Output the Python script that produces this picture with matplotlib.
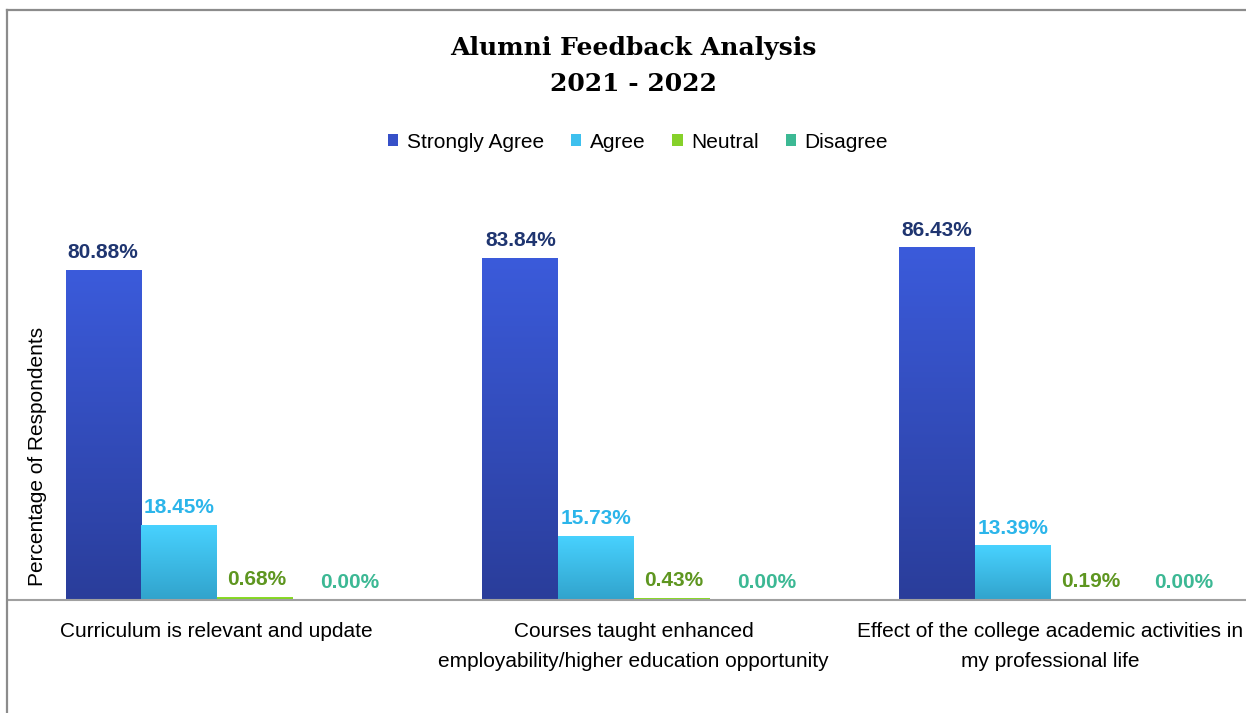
import matplotlib
matplotlib.use("Agg")
import matplotlib.pyplot as plt
import numpy as np
from matplotlib.colors import LinearSegmentedColormap
from matplotlib.patches import Patch
from matplotlib.lines import Line2D

categories = [
    "Curriculum is relevant and update",
    "Courses taught enhanced\nemployability/higher education opportunity",
    "Effect of the college academic activities in\nmy professional life",
]
series_names = ["Strongly Agree", "Agree", "Neutral", "Disagree"]
strongly_agree = [80.88, 83.84, 86.43]
agree = [18.45, 15.73, 13.39]
neutral = [0.68, 0.43, 0.19]
disagree = [0.00, 0.00, 0.00]

# (top colour, bottom colour, legend colour, label colour, label x-shift in pt)
STYLES = [
    ("#3b5bdb", "#2a3d9a", "#3650c8", "#1f3570", 0),
    ("#48d2ff", "#31a3cc", "#3ec0ee", "#2bb5ea", 0),
    ("#8ee02a", "#78c81c", "#86d12a", "#5e9620", 2),
    ("#45c9a4", "#34a986", "#3cb994", "#3cb894", 14),
]

FONT = ["Liberation Sans", "DejaVu Sans"]

fig = plt.figure(figsize=(12.46, 7.13), dpi=100)
W, H = 1246, 713

# axes: baseline at y=600 px, 4.08 px per percent
ax = fig.add_axes([8 / W, (H - 600) / H, (W - 8) / W, 408 / H])
ax.set_facecolor("none")

x = np.arange(len(categories))
bw = 75.5 / 417
all_series = [strongly_agree, agree, neutral, disagree]
xmax = -0.5 + (W - 8) / 417

for i, vals in enumerate(all_series):
    top, bottom, _, lab, dx = STYLES[i]
    cmap = LinearSegmentedColormap.from_list(f"g{i}", [bottom, top])
    pos = x + (i - 1.5) * bw
    bars = ax.bar(pos, vals, width=bw, color="none", edgecolor="none", zorder=2)
    for b, v in zip(bars, vals):
        x0, w, h = b.get_x(), b.get_width(), b.get_height()
        if h > 0:
            grad = np.linspace(0, 1, 256).reshape(-1, 1)
            im = ax.imshow(grad, extent=(x0, x0 + w, 0, h), origin="lower",
                           cmap=cmap, aspect="auto", zorder=2)
            im.set_clip_path(b)
        ax.annotate(f"{v:.2f}%", (x0 + w / 2, h), textcoords="offset points",
                    xytext=(dx, 8.5), ha="center", va="baseline",
                    fontsize=15, fontweight="bold", color=lab, family=FONT)

ax.set_xlim(-0.5, xmax)
ax.set_ylim(0, 100)
ax.set_yticks([])
ax.set_xticks(x)
ax.set_xticklabels(categories, fontsize=15, family=FONT, linespacing=1.75)
ax.tick_params(axis="x", length=0, pad=16)
for s in ["top", "right", "left"]:
    ax.spines[s].set_visible(False)
ax.spines["bottom"].set_color("#a0a0a0")
ax.spines["bottom"].set_linewidth(1.5)

# outer chart frame (cropped on right and bottom)
fig.add_artist(Line2D([7 / W, 7 / W], [0, 1 - 10 / H], color="#8c8c8c",
                      lw=1.6, transform=fig.transFigure))
fig.add_artist(Line2D([7 / W, 1], [1 - 10 / H, 1 - 10 / H], color="#8c8c8c",
                      lw=1.6, transform=fig.transFigure))

fig.text(633 / W, 1 - 66 / H, "Alumni Feedback Analysis\n2021 - 2022",
         ha="center", va="center", fontsize=18, fontweight="bold",
         family="DejaVu Serif", linespacing=1.6)

fig.text(38 / W, 1 - 456 / H, "Percentage of Respondents", rotation=90,
         ha="center", va="center", fontsize=15, family=FONT)

handles = [Patch(facecolor=s[2], edgecolor="none") for s in STYLES]
fig.legend(handles, series_names, loc="center", bbox_to_anchor=(638 / W, 1 - 142 / H),
           ncol=4, frameon=False, prop={"family": FONT, "size": 15},
           handlelength=0.5, handleheight=0.5, handletextpad=0.4, columnspacing=1.3)

fig.savefig("out.png", dpi=100)
